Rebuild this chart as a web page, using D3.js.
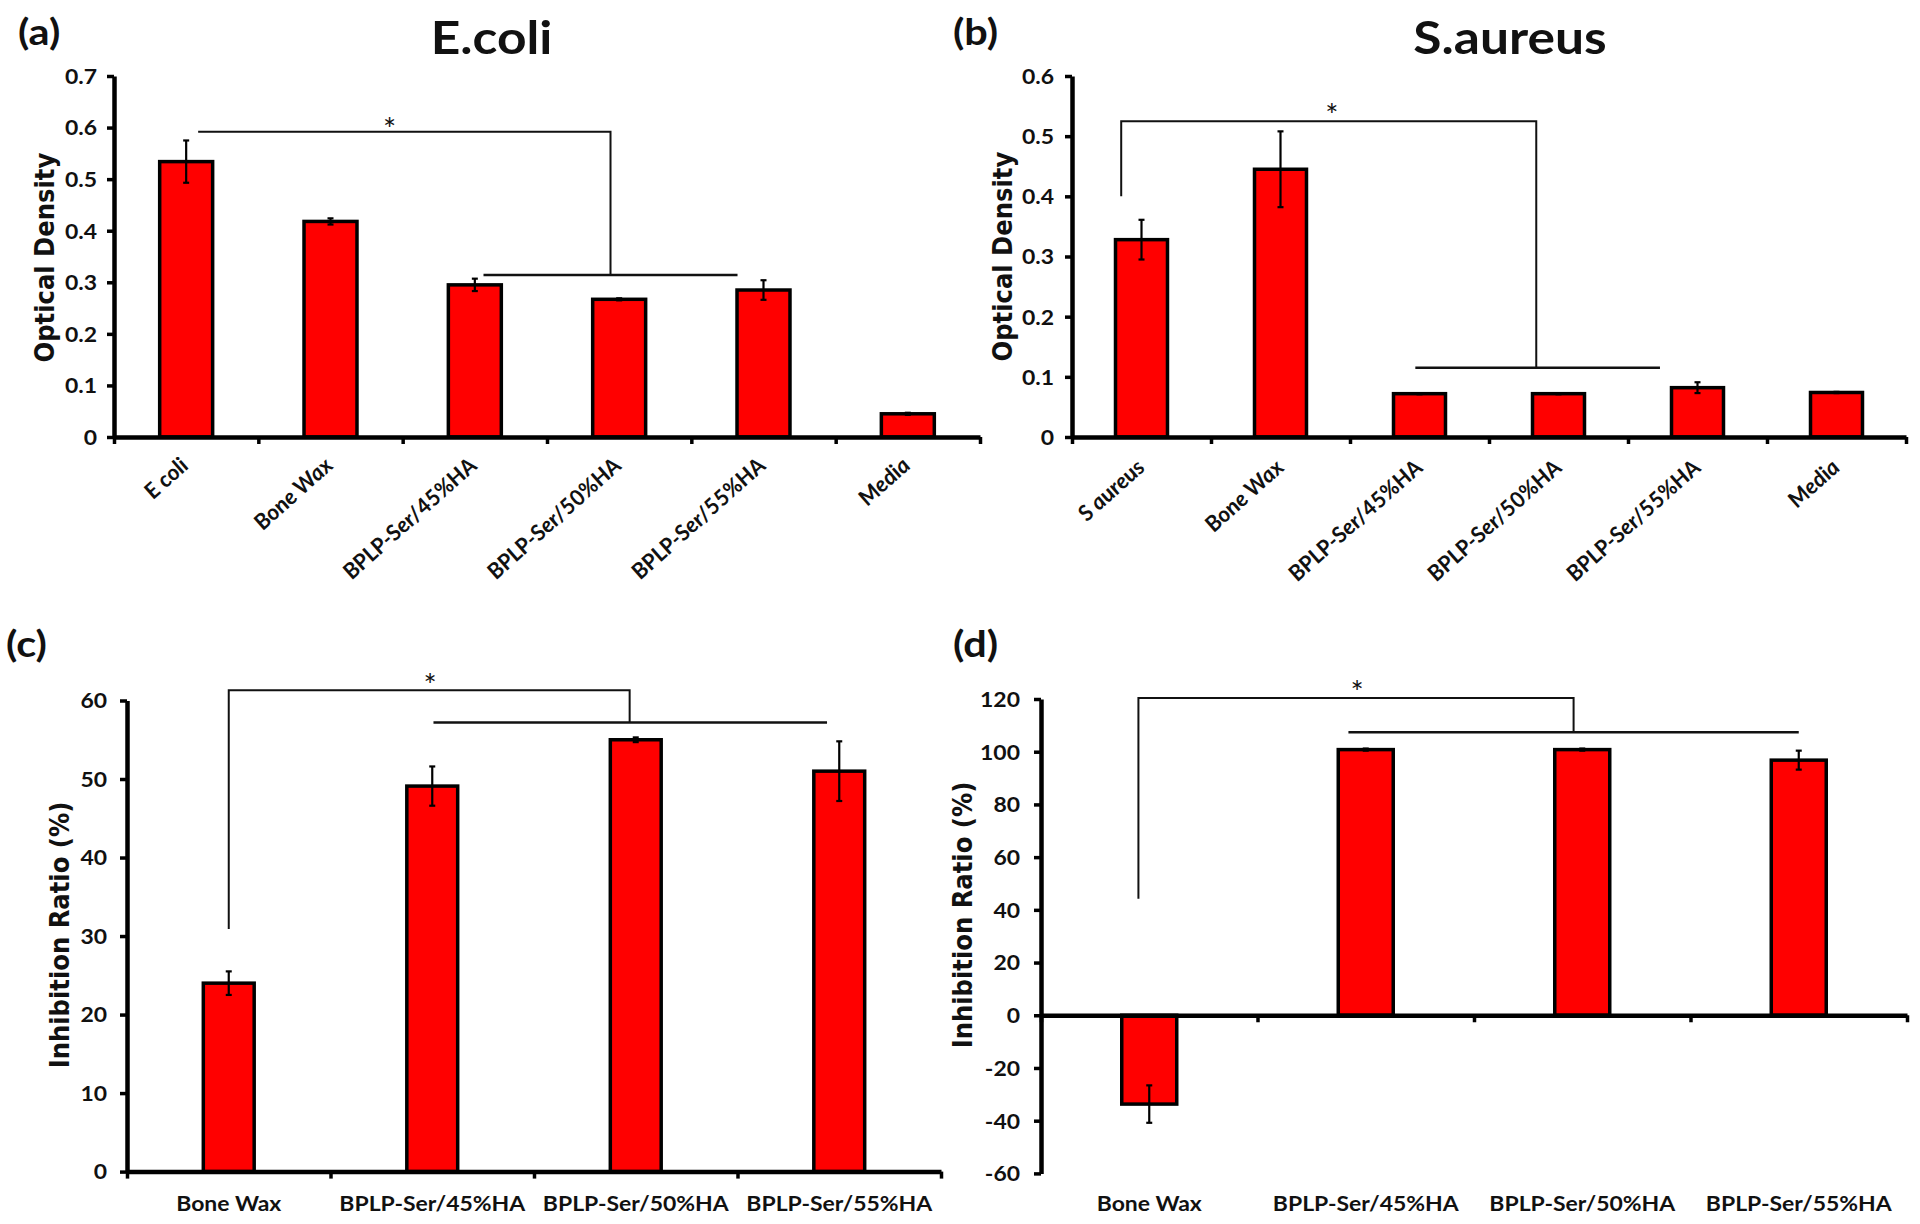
<!DOCTYPE html>
<html><head><meta charset="utf-8">
<script src="https://cdn.jsdelivr.net/npm/d3@7"></script>
<style>
html,body{margin:0;padding:0;background:#fff;}
svg{display:block;}
</style></head><body>
<svg id="fig" width="1920" height="1224"></svg>
<script>
// ---------- data ----------
const catsA = ["E coli", "Bone Wax", "BPLP-Ser/45%HA", "BPLP-Ser/50%HA", "BPLP-Ser/55%HA", "Media"];
const valsA = [0.534, 0.418, 0.295, 0.267, 0.285, 0.045];
const errsA = [0.041, 0.006, 0.012, 0.002, 0.019, 0.002];
const ticksA = [0, 0.1, 0.2, 0.3, 0.4, 0.5, 0.6, 0.7];

const catsB = ["S aureus", "Bone Wax", "BPLP-Ser/45%HA", "BPLP-Ser/50%HA", "BPLP-Ser/55%HA", "Media"];
const valsB = [0.328, 0.445, 0.072, 0.072, 0.082, 0.074];
const errsB = [0.033, 0.063, 0.001, 0.001, 0.009, 0.001];
const ticksB = [0, 0.1, 0.2, 0.3, 0.4, 0.5, 0.6];

const catsC = ["Bone Wax", "BPLP-Ser/45%HA", "BPLP-Ser/50%HA", "BPLP-Ser/55%HA"];
const valsC = [24.0, 49.1, 55.0, 51.0];
const errsC = [1.5, 2.5, 0.3, 3.8];
const ticksC = [0, 10, 20, 30, 40, 50, 60];

const catsD = ["Bone Wax", "BPLP-Ser/45%HA", "BPLP-Ser/50%HA", "BPLP-Ser/55%HA"];
const valsD = [-33.7, 100.8, 100.8, 96.8];
const errsD = [7.1, 0.4, 0.4, 3.6];
const ticksD = [-60, -40, -20, 0, 20, 40, 60, 80, 100, 120];

// significance brackets (category index, value units)
const sigA = {star: [1.41, 0.611], top: 0.592, topFrom: 0.083, topTo: 2.94, dropTo: null, low: 0.314, lowFrom: 2.06, lowTo: 3.82};
const sigB = {star: [1.37, 0.547], top: 0.525, topFrom: -0.146, topTo: 2.84, dropTo: 0.40, low: 0.115, lowFrom: 1.97, lowTo: 3.73};
const sigC = {star: [0.99, 62.9], top: 61.3, topFrom: 0.0, topTo: 1.97, dropTo: 30.9, low: 57.2, lowFrom: 1.006, lowTo: 2.94};
const sigD = {star: [0.96, 125.5], top: 120.4, topFrom: -0.05, topTo: 1.96, dropTo: 44.2, low: 107.4, lowFrom: 0.92, lowTo: 3.0};

// ---------- drawing ----------
const SX = 1.12;
const TICKFONT = "Lato, 'Open Sans', sans-serif";
const svg = d3.select("#fig");

function panel(cfg, cats, vals, errs, ticks, sig) {
  const g = svg.append("g");
  const n = cats.length;
  const x = d3.scaleBand().domain(cats).range(cfg.xr).paddingInner(cfg.pad).paddingOuter(cfg.pad / 2);
  const xb = d3.scaleLinear().domain([0, n]).range(cfg.xr);
  const xi = d3.scaleLinear().domain([-0.5, n - 0.5]).range(cfg.xr);
  const y = d3.scaleLinear().domain(cfg.yd).range(cfg.yr);
  const y0 = y(0);
  const bw = x.bandwidth();

  // bars
  g.append("g").selectAll("rect").data(vals).join("rect")
    .attr("x", (d, i) => x(cats[i]))
    .attr("width", bw)
    .attr("y", d => Math.min(y(d), y0))
    .attr("height", d => Math.abs(y(d) - y0))
    .attr("fill", "#ff0000")
    .attr("stroke", "#000")
    .attr("stroke-width", 3.5);

  // error bars
  const eg = g.append("g").attr("stroke", "#000").attr("stroke-width", 2.2);
  vals.forEach((v, i) => {
    const cx = x(cats[i]) + bw / 2;
    const e = errs[i];
    eg.append("line").attr("x1", cx).attr("x2", cx).attr("y1", y(v - e)).attr("y2", y(v + e));
    eg.append("line").attr("x1", cx - 3).attr("x2", cx + 3).attr("y1", y(v + e)).attr("y2", y(v + e));
    eg.append("line").attr("x1", cx - 3).attr("x2", cx + 3).attr("y1", y(v - e)).attr("y2", y(v - e));
  });

  // x axis line with boundary ticks
  const xa = g.append("g").attr("transform", `translate(0,${y0})`)
    .call(d3.axisBottom(xb).tickValues(d3.range(n + 1)).tickSize(7).tickSizeOuter(0).tickFormat(""));
  xa.select(".domain").attr("stroke", "#000").attr("stroke-width", 4.5);
  xa.selectAll(".tick line").attr("stroke", "#000").attr("stroke-width", 3.5);

  // y axis
  const ya = g.append("g").attr("transform", `translate(${cfg.xr[0]},0)`)
    .call(d3.axisLeft(y).tickValues(ticks).tickSize(7).tickSizeOuter(0).tickFormat(d => String(d)));
  ya.select(".domain").attr("stroke", "#000").attr("stroke-width", 4.5);
  ya.selectAll(".tick line").attr("stroke", "#000").attr("stroke-width", 3.5);
  ya.selectAll(".tick text")
    .attr("x", 0).attr("dy", "0.36em")
    .attr("transform", `translate(${-cfg.ytOff},0) scale(${SX},1)`)
    .attr("font-family", TICKFONT).attr("font-weight", 700).attr("font-size", 20.5)
    .attr("fill", "#111");

  // category labels
  const lab = g.append("g").attr("transform", `translate(0,${cfg.labelBase})`)
    .call(d3.axisBottom(x).tickSize(0).tickSizeOuter(0));
  lab.select(".domain").remove();
  if (cfg.rotate) {
    lab.selectAll(".tick text")
      .attr("x", 0).attr("y", 0).attr("dy", 0)
      .attr("text-anchor", "end")
      .attr("transform", `translate(${cfg.rotOff},0) scale(${SX},1) rotate(-45)`)
      .attr("font-family", TICKFONT).attr("font-weight", 700).attr("font-style", "italic")
      .attr("font-size", 21).attr("fill", "#111");
  } else {
    lab.selectAll(".tick text")
      .attr("x", 0).attr("y", 0).attr("dy", 0)
      .attr("text-anchor", "middle")
      .attr("transform", `scale(${SX},1)`)
      .attr("font-family", TICKFONT).attr("font-weight", 700)
      .attr("font-size", 20.5).attr("fill", "#111");
  }

  // significance bracket
  const sg = g.append("g").attr("fill", "none").attr("stroke", "#111");
  let p = `M${xi(sig.topFrom)},${y(sig.top)}H${xi(sig.topTo)}V${y(sig.low)}`;
  if (sig.dropTo !== null) p = `M${xi(sig.topFrom)},${y(sig.dropTo)}V${y(sig.top)}H${xi(sig.topTo)}V${y(sig.low)}`;
  sg.append("path").attr("d", p).attr("stroke-width", 2);
  sg.append("path").attr("d", `M${xi(sig.lowFrom)},${y(sig.low)}H${xi(sig.lowTo)}`).attr("stroke-width", 2.6);
  g.append("text").attr("x", xi(sig.star[0])).attr("y", y(sig.star[1]))
    .attr("dy", "0.6em").attr("text-anchor", "middle")
    .attr("font-family", TICKFONT).attr("font-size", 31).attr("fill", "#111").text("*");

  // y title
  g.append("text")
    .attr("transform", `translate(${cfg.yTitle[0]},${cfg.yTitle[1]}) scale(${SX},1) rotate(-90)`)
    .attr("text-anchor", "middle").attr("dy", "0.36em")
    .attr("font-family", "'DejaVu Sans', Verdana, sans-serif").attr("font-weight", 700)
    .attr("font-size", 24.3).attr("fill", "#111").text(cfg.yTitleText);

  // panel letter
  g.append("text")
    .attr("transform", `translate(${cfg.letter[0]},${cfg.letter[1]}) scale(${SX},1)`)
    .attr("font-family", TICKFONT).attr("font-weight", 700)
    .attr("font-size", 37).attr("fill", "#111").text(cfg.letterText);

  // chart title
  if (cfg.title) {
    g.append("text")
      .attr("transform", `translate(${cfg.title[0]},${cfg.title[1]}) scale(${SX},1)`)
      .attr("text-anchor", "middle")
      .attr("font-family", TICKFONT).attr("font-weight", 700)
      .attr("font-size", 46).attr("fill", "#111").text(cfg.titleText);
  }
}

panel({xr: [114, 980], yr: [437, 76], yd: [0, 0.7], pad: 0.633, rotate: true, rotOff: 4, labelBase: 467,
       ytOff: 17, yTitle: [44.4, 257.6], yTitleText: "Optical Density",
       letter: [18, 45], letterText: "(a)", title: [491.5, 54], titleText: "E.coli"},
      catsA, valsA, errsA, ticksA, sigA);

panel({xr: [1072, 1906], yr: [437, 76], yd: [0, 0.6], pad: 0.626, rotate: true, rotOff: 5, labelBase: 469,
       ytOff: 18, yTitle: [1002, 256.6], yTitleText: "Optical Density",
       letter: [953, 45], letterText: "(b)", title: [1510, 54], titleText: "S.aureus"},
      catsB, valsB, errsB, ticksB, sigB);

panel({xr: [127, 941], yr: [1171.6, 700.5], yd: [0, 60], pad: 0.75, rotate: false, labelBase: 1211,
       ytOff: 20, yTitle: [58.7, 935], yTitleText: "Inhibition Ratio (%)",
       letter: [6, 657], letterText: "(c)"},
      catsC, valsC, errsC, ticksC, sigC);

panel({xr: [1041, 1907], yr: [1173.4, 699], yd: [-60, 120], pad: 0.746, rotate: false, labelBase: 1211,
       ytOff: 21, yTitle: [962, 915], yTitleText: "Inhibition Ratio (%)",
       letter: [953, 657], letterText: "(d)"},
      catsD, valsD, errsD, ticksD, sigD);
</script>
</body></html>
